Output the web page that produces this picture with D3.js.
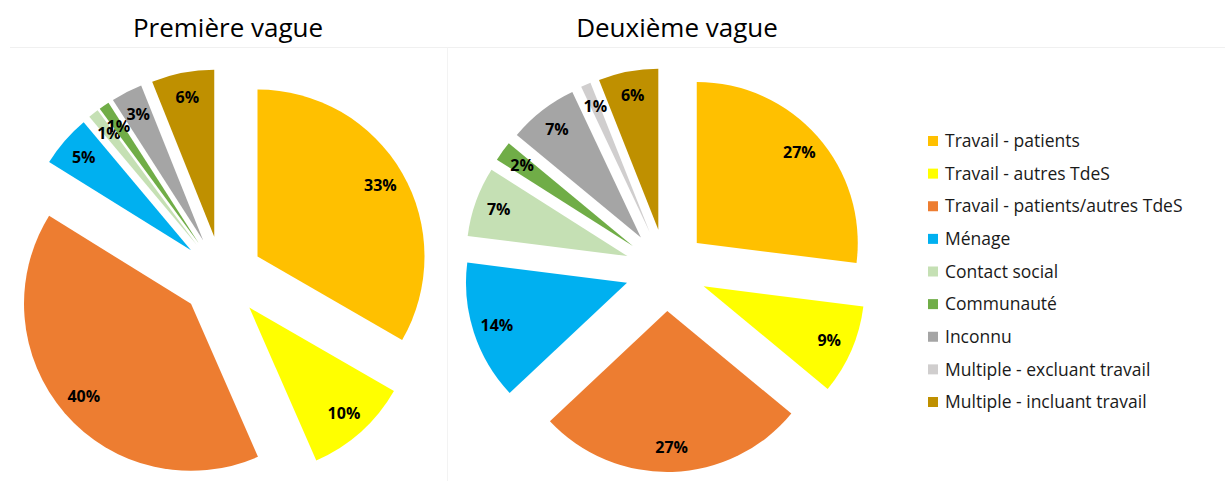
<!DOCTYPE html>
<html>
<head>
<meta charset="utf-8">
<script src="https://cdn.jsdelivr.net/npm/d3@7"></script>
<style>
  body { margin: 0; background: #fff; }
  svg text { font-family: "Open Sans", "Noto Sans", sans-serif; }
</style>
</head>
<body>
<div id="chart"></div>
<script>
// categories, in drawing order (clockwise from 12 o'clock)
const categories = [
  'Travail - patients',
  'Travail - autres TdeS',
  'Travail - patients/autres TdeS',
  'Ménage',
  'Contact social',
  'Communauté',
  'Inconnu',
  'Multiple - excluant travail',
  'Multiple - incluant travail'
];
const firstWave = [33, 10, 40, 5, 1, 1, 3, 0, 6];
const secondWave = [27, 9, 27, 14, 7, 2, 7, 1, 6];
const titles = ['Première vague', 'Deuxième vague'];
const colors = ['#FFC000', '#FFFF00', '#ED7D31', '#00B0F0', '#C5E0B4',
  '#70AD47', '#A5A5A5', '#D0CECE', '#BF9000'];

const width = 1225;
const height = 481;

const svg = d3.select('#chart').append('svg')
    .attr('width', width)
    .attr('height', height);

// faint chart-area borders
svg.append('line')
  .attr('x1', 10).attr('x2', width).attr('y1', 47.5).attr('y2', 47.5)
  .attr('stroke', '#f0f0f0').attr('stroke-width', 1);
svg.append('line')
  .attr('x1', 447.5).attr('x2', 447.5).attr('y1', 47.5).attr('y2', height)
  .attr('stroke', '#f3f3f3').attr('stroke-width', 1);

const pies = [
  { values: firstWave, title: titles[0], cx: 222, cy: 277, r: 167, titleX: 228 },
  { values: secondWave, title: titles[1], cx: 666, cy: 270, r: 161, titleX: 677 }
];
const explode = 41;

const pie = d3.pie().sort(null).value((d) => d);
const color = d3.scaleOrdinal().domain(categories).range(colors);

pies.forEach((p) => {
  svg.append('text')
    .attr('x', p.titleX)
    .attr('y', 37)
    .attr('text-anchor', 'middle')
    .attr('font-size', 26)
    .attr('fill', '#000')
    .text(p.title);

  const arc = d3.arc().innerRadius(0).outerRadius(p.r);
  const g = svg.append('g')
    .attr('transform', `translate(${p.cx}, ${p.cy})`);

  const arcs = pie(p.values).map((d, i) => {
    const mid = (d.startAngle + d.endAngle) / 2;
    return Object.assign(d, {
      category: categories[i],
      dx: explode * Math.sin(mid),
      dy: -explode * Math.cos(mid),
      mid
    });
  }).filter((d) => d.value > 0);

  const slice = g.selectAll('.slice')
    .data(arcs)
    .enter()
    .append('g')
      .attr('class', 'slice')
      .attr('transform', (d) => `translate(${d.dx}, ${d.dy})`);

  slice.append('path')
    .attr('d', arc)
    .attr('fill', (d) => color(d.category));

  // data labels
  const lr = p.r * 0.85;
  slice.append('text')
    .attr('x', (d) => lr * Math.sin(d.mid))
    .attr('y', (d) => -lr * Math.cos(d.mid))
    .attr('dy', '0.35em')
    .attr('text-anchor', 'middle')
    .attr('font-size', 16)
    .attr('font-weight', 'bold')
    .attr('fill', '#000')
    .text((d) => `${d.value}%`);
});

// legend
const legendY = d3.scalePoint()
  .domain(categories)
  .range([141, 402]);

const legend = svg.append('g').attr('class', 'legend');
const item = legend.selectAll('g')
  .data(categories)
  .enter()
  .append('g')
    .attr('transform', (d) => `translate(928, ${legendY(d)})`);

item.append('rect')
  .attr('x', 0)
  .attr('y', -5)
  .attr('width', 10)
  .attr('height', 10)
  .attr('fill', (d) => color(d));

item.append('text')
  .attr('x', 17)
  .attr('dy', '0.35em')
  .attr('font-size', 17.5)
  .attr('fill', '#1a1a1a')
  .text((d) => d);
</script>
</body>
</html>
